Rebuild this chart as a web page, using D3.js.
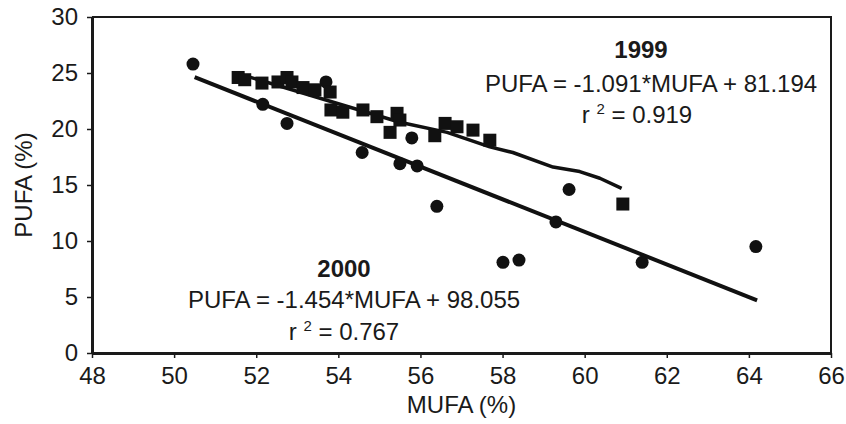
<!DOCTYPE html>
<html>
<head>
<meta charset="utf-8">
<script src="https://cdn.jsdelivr.net/npm/d3@7"></script>
<style>
  body { margin: 0; background: #fff; }
  svg text { font-family: "Liberation Sans", Arial, Helvetica, sans-serif; fill: #1a1a1a; }
</style>
</head>
<body>
<div id="chart"></div>
<script>
// 1999 samples (squares)
const mufa1999 = [51.56, 51.72, 52.14, 52.53, 52.75, 52.87, 53.14, 53.43, 53.80, 53.82, 54.11, 54.60, 54.94, 55.26, 55.43, 55.50, 56.35, 56.60, 56.89, 57.28, 57.69, 60.93];
const pufa1999 = [24.6, 24.4, 24.1, 24.2, 24.6, 24.2, 23.7, 23.5, 23.3, 21.7, 21.5, 21.7, 21.1, 19.7, 21.4, 20.8, 19.4, 20.5, 20.2, 19.9, 19.0, 13.3];

// 2000 samples (circles)
const mufa2000 = [50.46, 52.16, 52.75, 53.70, 54.58, 55.50, 55.79, 55.92, 56.40, 58.01, 58.40, 59.30, 59.62, 61.40, 64.17];
const pufa2000 = [25.8, 22.2, 20.5, 24.2, 17.9, 16.9, 19.2, 16.7, 13.1, 8.1, 8.3, 11.7, 14.6, 8.1, 9.5];

// 1999 trend line
const trend1999X = [51.6, 55.5, 56.65, 57.69, 58.25, 59.23, 59.88, 60.37, 60.9];
const trend1999Y = [24.9, 20.6, 19.7, 18.4, 17.9, 16.6, 16.2, 15.6, 14.7];

// 2000 fit: PUFA = -1.454*MUFA + 98.055
const fit2000 = { slope: -1.454, intercept: 98.055, x0: 50.5, x1: 64.2 };

const xTicks = [48, 50, 52, 54, 56, 58, 60, 62, 64, 66];
const yTicks = [0, 5, 10, 15, 20, 25, 30];

const margin = { top: 17, right: 15, bottom: 71, left: 92 };
const width = 846 - margin.left - margin.right;
const height = 424 - margin.top - margin.bottom;
const fs = "24px";

const svg = d3.select("#chart").append("svg")
    .attr("width", 846)
    .attr("height", 424);

const g = svg.append("g").attr("transform", `translate(${margin.left},${margin.top})`);

const x = d3.scaleLinear().domain([48, 66]).range([0, width]);
const y = d3.scaleLinear().domain([0, 30]).range([height, 0]);

// frame (top and right)
g.append("path")
    .attr("d", `M0,0H${width}V${height}`)
    .attr("fill", "none")
    .attr("stroke", "#1a1a1a")
    .attr("stroke-width", 2);

const xAxis = g.append("g")
    .attr("transform", `translate(0,${height})`)
    .call(d3.axisBottom(x).tickValues(xTicks).tickSize(5).tickPadding(9).tickSizeOuter(0));
const yAxis = g.append("g")
    .call(d3.axisLeft(y).tickValues(yTicks).tickSize(5).tickPadding(9).tickSizeOuter(0));

[xAxis, yAxis].forEach(a => {
    a.select(".domain").attr("stroke", "#1a1a1a").attr("stroke-width", 3);
    a.selectAll(".tick line").attr("stroke", "#1a1a1a").attr("stroke-width", 1.5);
    a.selectAll(".tick text")
        .attr("fill", "#1a1a1a")
        .style("font-size", fs)
        .style("font-family", "'Liberation Sans', Arial, sans-serif");
});

// axis titles
svg.append("text")
    .attr("x", margin.left + x(57))
    .attr("y", 413)
    .attr("text-anchor", "middle")
    .style("font-size", fs)
    .text("MUFA (%)");

svg.append("text")
    .attr("transform", `translate(32,${margin.top + y(15)}) rotate(-90)`)
    .attr("text-anchor", "middle")
    .style("font-size", fs)
    .text("PUFA (%)");

// 2000 regression line
g.append("line")
    .attr("x1", x(fit2000.x0))
    .attr("y1", y(fit2000.slope * fit2000.x0 + fit2000.intercept))
    .attr("x2", x(fit2000.x1))
    .attr("y2", y(fit2000.slope * fit2000.x1 + fit2000.intercept))
    .attr("stroke", "#111")
    .attr("stroke-width", 4);

// 1999 trend line
const line = d3.line()
    .x(i => x(trend1999X[i]))
    .y(i => y(trend1999Y[i]));
g.append("path")
    .attr("d", line(d3.range(trend1999X.length)))
    .attr("fill", "none")
    .attr("stroke", "#111")
    .attr("stroke-width", 3.5)
    .attr("stroke-linejoin", "round");

// circles (2000)
g.selectAll("circle.y2000")
    .data(d3.range(mufa2000.length))
    .enter().append("circle")
    .attr("class", "y2000")
    .attr("cx", i => x(mufa2000[i]))
    .attr("cy", i => y(pufa2000[i]))
    .attr("r", 6.5)
    .attr("fill", "#111");

// squares (1999)
const sq = 13;
g.selectAll("rect.y1999")
    .data(d3.range(mufa1999.length))
    .enter().append("rect")
    .attr("class", "y1999")
    .attr("x", i => x(mufa1999[i]) - sq / 2)
    .attr("y", i => y(pufa1999[i]) - sq / 2)
    .attr("width", sq)
    .attr("height", sq)
    .attr("fill", "#111");

// annotations
function rsq(sel, cx, cy, val) {
    const t = sel.append("text")
        .attr("x", cx)
        .attr("y", cy)
        .attr("text-anchor", "middle")
        .style("font-size", fs);
    t.append("tspan").text("r ");
    t.append("tspan").attr("dy", -9).style("font-size", "15px").text("2");
    t.append("tspan").attr("dy", 9).text(" = " + val);
}

svg.append("text")
    .attr("x", 641).attr("y", 58)
    .attr("text-anchor", "middle")
    .style("font-size", fs).style("font-weight", "bold")
    .text("1999");
svg.append("text")
    .attr("x", 651).attr("y", 92)
    .attr("text-anchor", "middle")
    .style("font-size", fs)
    .text("PUFA = -1.091*MUFA + 81.194");
rsq(svg, 637, 123, "0.919");

svg.append("text")
    .attr("x", 344).attr("y", 277)
    .attr("text-anchor", "middle")
    .style("font-size", fs).style("font-weight", "bold")
    .text("2000");
svg.append("text")
    .attr("x", 354).attr("y", 308)
    .attr("text-anchor", "middle")
    .style("font-size", fs)
    .text("PUFA = -1.454*MUFA + 98.055");
rsq(svg, 344, 340, "0.767");
</script>
</body>
</html>
